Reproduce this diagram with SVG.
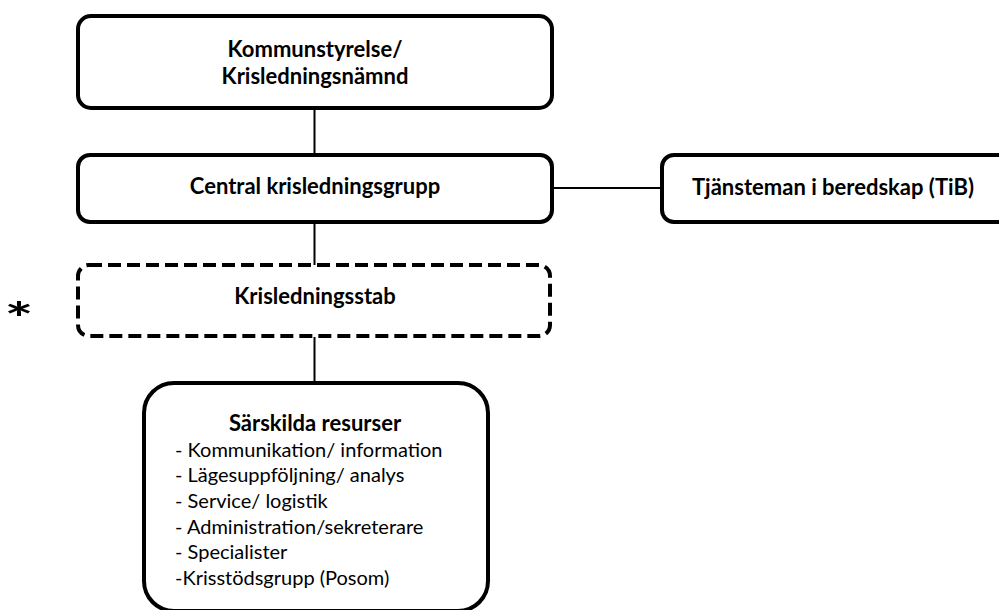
<svg xmlns="http://www.w3.org/2000/svg" width="999" height="610" viewBox="0 0 999 610">
<style>
.box{fill:#fff;stroke:#000;stroke-width:4}
.dash{fill:#fff;stroke:#000;stroke-width:4;stroke-dasharray:13 6}
.t{font-family:Lato,"Liberation Sans",sans-serif;font-weight:bold;font-size:22px;text-anchor:middle;fill:#000}
.l{font-family:Lato,"Liberation Sans",sans-serif;font-size:20px;fill:#000}
.c{stroke:#000;stroke-width:2;fill:none}
</style>
<rect width="999" height="610" fill="#fff"/>
<g id="connectors">
<line class="c" x1="314.5" y1="108" x2="314.5" y2="155"/>
<line class="c" x1="314.5" y1="222" x2="314.5" y2="265"/>
<line class="c" x1="314.5" y1="337" x2="314.5" y2="383"/>
<line class="c" x1="552" y1="188" x2="662" y2="188"/>
</g>
<g id="kommunstyrelse">
<rect class="box" x="78" y="16" width="474" height="92" rx="13"/>
<text class="t" x="315" y="57">Kommunstyrelse/</text>
<text class="t" x="315" y="84">Krisledningsnämnd</text>
</g>
<g id="central">
<rect class="box" x="78" y="155" width="474" height="67" rx="12"/>
<text class="t" x="315" y="194">Central krisledningsgrupp</text>
</g>
<g id="tib">
<rect class="box" x="662" y="155" width="360" height="67" rx="12"/>
<text class="t" x="833" y="195">Tjänsteman i beredskap (TiB)</text>
</g>
<g id="stab">
<rect class="dash" x="78" y="265" width="472" height="71" rx="11"/>
<text class="t" x="315" y="304">Krisledningsstab</text>
</g>
<g id="resurser">
<rect class="box" x="144" y="383" width="344" height="228" rx="30"/>
<text class="t" x="315" y="431">Särskilda resurser</text>
<text class="l" x="175" y="457">- Kommunikation/ information</text>
<text class="l" x="175" y="482">- Lägesuppföljning/ analys</text>
<text class="l" x="175" y="508">- Service/ logistik</text>
<text class="l" x="175" y="534">- Administration/sekreterare</text>
<text class="l" x="175" y="559">- Specialister</text>
<text class="l" x="175" y="585">-Krisstödsgrupp (Posom)</text>
</g>
<g id="asterisk">
<text transform="translate(19,334) scale(1.55,1)" style="font-family:Lato,'Liberation Sans',sans-serif;font-weight:bold;font-size:44px;text-anchor:middle">*</text>
</g>
</svg>
